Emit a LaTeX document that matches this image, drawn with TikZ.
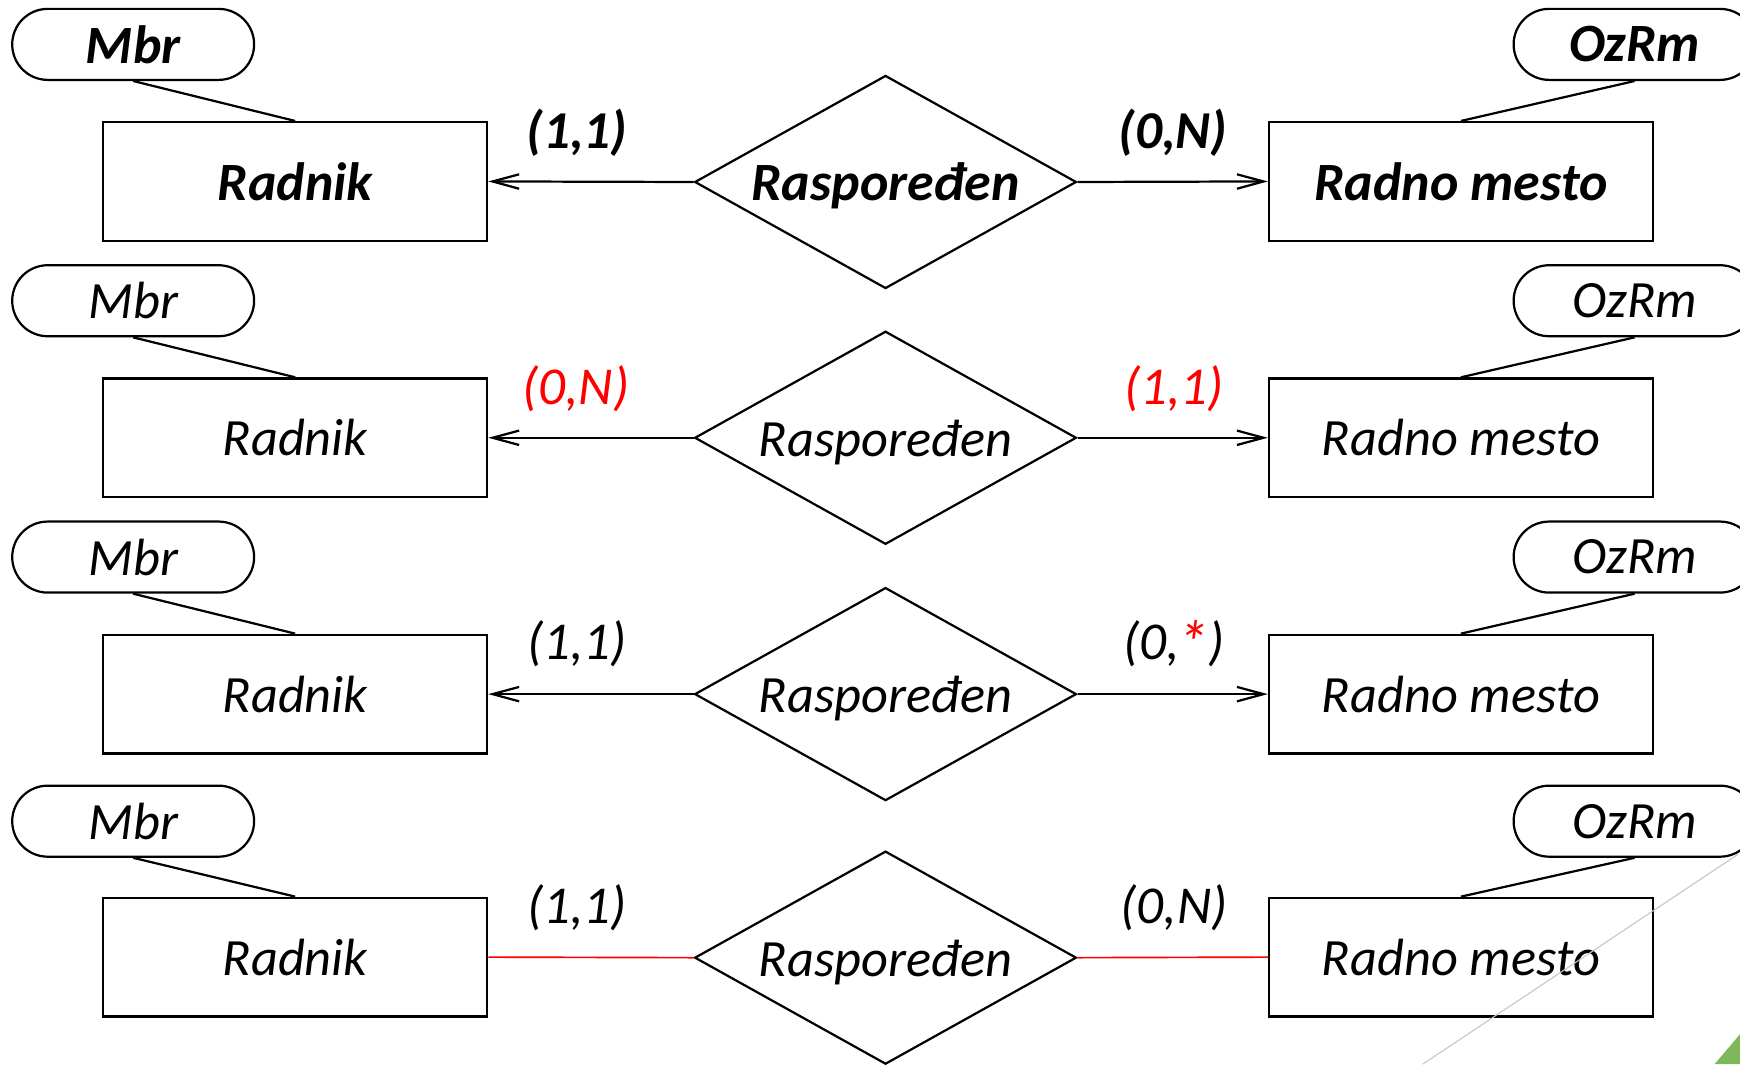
\documentclass[tikz,border=0pt]{standalone}
\usepackage{fontspec}
\setmainfont{Carlito}
\usetikzlibrary{shapes.geometric,shapes.misc,arrows.meta}
\definecolor{erred}{RGB}{255,0,0}
\definecolor{slidegreen}{RGB}{125,185,90}
\begin{document}
\begin{tikzpicture}[x=0.5pt,y=-0.5pt,
  ent/.style={draw,line width=1pt,minimum width=173pt,minimum height=53.5pt,inner sep=0pt},
  attr/.style={draw,rounded rectangle,line width=1pt,minimum width=109pt,minimum height=32pt,inner sep=0pt},
  rel/.style={draw,diamond,line width=1pt,minimum width=172pt,minimum height=96pt,inner sep=0pt},
  txt/.style={font=\fontsize{23.6}{26}\selectfont\itshape},
  btxt/.style={font=\fontsize{24.3}{27}\selectfont\bfseries\itshape},
  card/.style={font=\fontsize{24}{26}\selectfont\itshape},
  bcard/.style={font=\fontsize{24}{26}\selectfont\bfseries\itshape},
  link/.style={line width=1pt},
  arr/.style={line width=1pt,-{Straight Barb[length=12pt,width=6.5pt,line width=1pt]}},
  redlink/.style={line width=0.75pt,draw=erred}]
\useasboundingbox (0,0) rectangle (1568,959);

% ---------- Row 1 (bold) ----------
\node[attr,btxt] (a1) at (120,40) {Mbr};
\node[ent,btxt] (e1) at (266,163.5) {Radnik};
\node[rel] (d1) at (798,164) {};
\node[btxt] (t1) at ([yshift=-1.5pt]d1.center) {Raspoređen};
\node[ent,btxt] (m1) at (1316.5,163.5) {Radno mesto};
\node[attr,btxt] (o1) at (1473,40) {OzRm};
\draw[link] (a1.south) -- (e1.north);
\draw[link] (o1.south) -- (m1.north);
\draw[arr] (d1.west) -- (e1.east);
\draw[arr] (d1.east) -- (m1.west);
\node[bcard] (c1l) at (520,120) {(1,1)};
\node[bcard] (c1r) at (1057,120) {(0,N)};

% ---------- Row 2 ----------
\node[attr,txt] (a2) at (120,271) {Mbr};
\node[ent,txt] (e2) at (266,394.5) {Radnik};
\node[rel] (d2) at (798,394.5) {};
\node[txt] (t2) at ([yshift=-2pt]d2.center) {Raspoređen};
\node[ent,txt] (m2) at (1316.5,394.5) {Radno mesto};
\node[attr,txt] (o2) at (1473,271) {OzRm};
\draw[link] (a2.south) -- (e2.north);
\draw[link] (o2.south) -- (m2.north);
\draw[arr] (d2.west) -- (e2.east);
\draw[arr] (d2.east) -- (m2.west);
\node[card,text=erred] (c2l) at (519,350) {(0,N)};
\node[card,text=erred] (c2r) at (1058,350) {(1,1)};

% ---------- Row 3 ----------
\node[attr,txt] (a3) at (120,502) {Mbr};
\node[ent,txt] (e3) at (266,625.5) {Radnik};
\node[rel] (d3) at (798,625.5) {};
\node[txt] (t3) at ([yshift=-2pt]d3.center) {Raspoređen};
\node[ent,txt] (m3) at (1316.5,625.5) {Radno mesto};
\node[attr,txt] (o3) at (1473,502) {OzRm};
\draw[link] (a3.south) -- (e3.north);
\draw[link] (o3.south) -- (m3.north);
\draw[arr] (d3.west) -- (e3.east);
\draw[arr] (d3.east) -- (m3.west);
\node[card] (c3l) at (520,580) {(1,1)};
\node[card] (c3r) at (1058,580) {(0,\kern-1pt\textcolor{erred}{\fontsize{28}{28}\selectfont\raisebox{-2.5pt}{*}})};

% ---------- Row 4 ----------
\node[attr,txt] (a4) at (120,740) {Mbr};
\node[ent,txt] (e4) at (266,862.5) {Radnik};
\node[rel] (d4) at (798,863) {};
\node[txt] (t4) at ([yshift=-2pt]d4.center) {Raspoređen};
\node[ent,txt] (m4) at (1316.5,862.5) {Radno mesto};
\node[attr,txt] (o4) at (1473,740) {OzRm};
\draw[link] (a4.south) -- (e4.north);
\draw[link] (o4.south) -- (m4.north);
\draw[redlink] (d4.west) -- (e4.east);
\draw[redlink] (d4.east) -- (m4.west);
\node[card] (c4l) at (520,818) {(1,1)};
\node[card] (c4r) at (1058,818) {(0,N)};

% ---------- slide decoration ----------
\draw[line width=0.5pt,black!22] (1566,770) -- (1282,959);
\fill[slidegreen] (1568,932) -- (1568,959) -- (1545,959) -- cycle;
\end{tikzpicture}
\end{document}
